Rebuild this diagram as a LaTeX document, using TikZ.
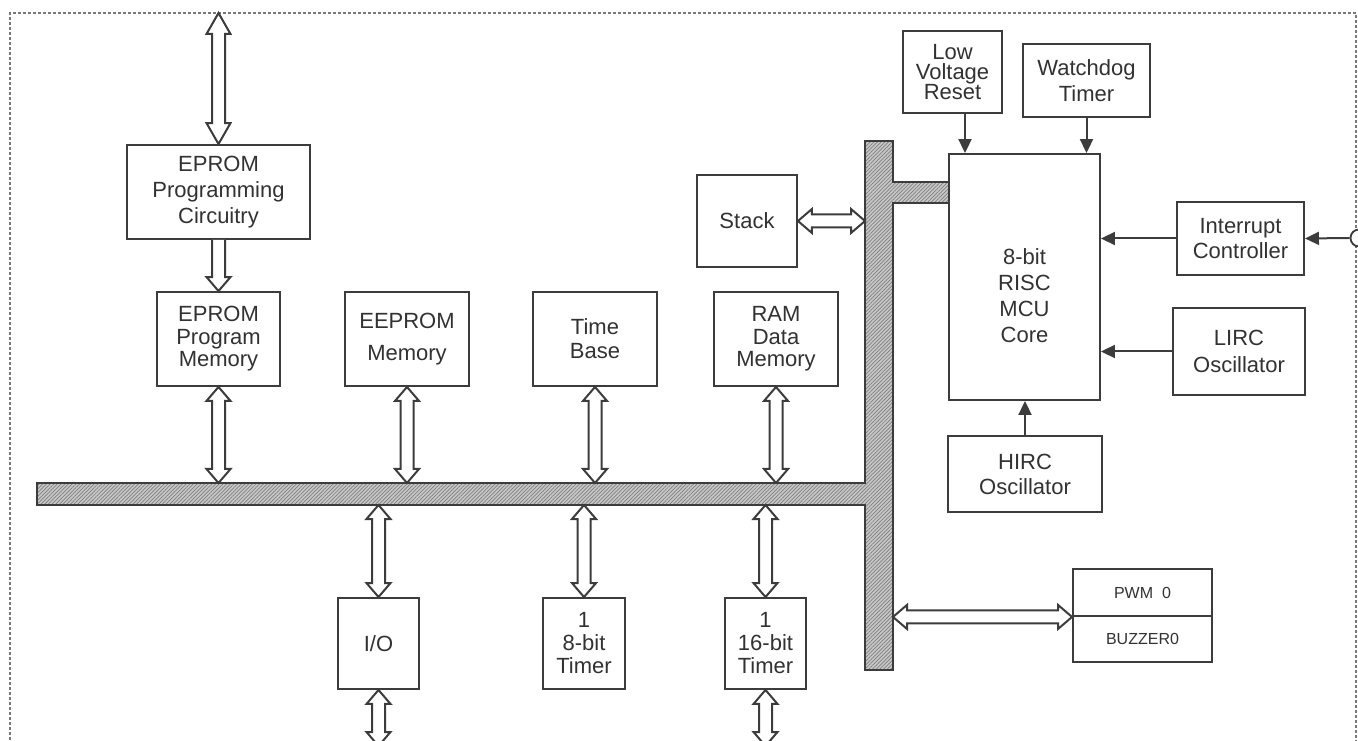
\documentclass[tikz,border=0pt]{standalone}
\usepackage{fontspec}
\setmainfont{Liberation Sans}
\usetikzlibrary{arrows.meta,calc,patterns.meta}

% hollow bus arrows between two points, #1 = head length
\newcommand{\dblarrow}[3][14]{%
  \draw[hollow] let \p1=(#2), \p2=(#3), \n1={atan2(\y2-\y1,\x2-\x1)},
    \n2={veclen(\x2-\x1,\y2-\y1)} in [shift={(\p1)}, rotate=\n1]
    (0,0) -- (#1,12) -- (#1,6.5) -- (\n2-#1,6.5) -- (\n2-#1,12) -- (\n2,0)
    -- (\n2-#1,-12) -- (\n2-#1,-6.5) -- (#1,-6.5) -- (#1,-12) -- cycle;}
\newcommand{\onearrow}[3][14]{%
  \draw[hollow] let \p1=(#2), \p2=(#3), \n1={atan2(\y2-\y1,\x2-\x1)},
    \n2={veclen(\x2-\x1,\y2-\y1)} in [shift={(\p1)}, rotate=\n1]
    (0,6.5) -- (\n2-#1,6.5) -- (\n2-#1,12) -- (\n2,0)
    -- (\n2-#1,-12) -- (\n2-#1,-6.5) -- (0,-6.5);}

\begin{document}
\begin{tikzpicture}[x=1pt,y=1pt,
  box/.style={draw=ldark,line width=1.9pt,fill=white,align=center,inner sep=0pt,
    text=ltext,font=\fontsize{22}{24}\selectfont},
  txt/.style={align=center,inner sep=0pt,text=ltext,font=\fontsize{22}{#1}\selectfont},
  lsep/.style={font=\fontsize{22}{#1}\selectfont},
  sig/.style={draw=ldark,line width=2pt,-{Triangle[length=14pt,width=13pt]}},
  hollow/.style={draw=ldark,line width=2pt,fill=white,line join=miter},
  border/.style={draw=lgray,line width=1.5pt,dash pattern=on 3pt off 2pt},
  ]
  \definecolor{ldark}{RGB}{60,60,60}
  \definecolor{ltext}{RGB}{50,50,50}
  \definecolor{lgray}{RGB}{120,120,120}
  \definecolor{lbus}{RGB}{200,200,200}
  \definecolor{lhatch}{RGB}{125,125,125}
  \useasboundingbox (0,0) rectangle (1358,740);
  \draw[border] (10,-20) rectangle (1356,727);
  % the bus
  \draw[draw=ldark,line width=1.4pt,preaction={fill=lbus},
    pattern={Lines[angle=45,distance=2.6pt,line width=0.7pt]},pattern color=lhatch]
    (37,257) -- (865,257) -- (865,599) -- (893,599) -- (893,558) -- (949,558)
    -- (949,537) -- (893,537) -- (893,70) -- (865,70) -- (865,235) -- (37,235) -- cycle;
  \coordinate (busT) at (0,257);
  \coordinate (busB) at (0,235);
  \coordinate (busL) at (865,0);
  \coordinate (busR) at (893,0);
  \coordinate (ptop) at (218.5,727);
  \coordinate (pbot) at (0,-6);
  % blocks
  \node[box,minimum width=183pt,minimum height=94pt,lsep=26] (prog) at (218.5,548) {EPROM\\Programming\\Circuitry};
  \node[box,minimum width=123pt,minimum height=94pt,lsep=22.5] (pmem) at (218.5,401) {EPROM\\Program\\Memory};
  \node[box,minimum width=124pt,minimum height=94pt,lsep=32] (eeprom) at (407,401) {EEPROM\\Memory};
  \node[box,minimum width=124pt,minimum height=94pt] (tbase) at (595,401) {Time\\Base};
  \node[box,minimum width=124pt,minimum height=94pt,lsep=22.5] (ram) at (776,401) {RAM\\Data\\Memory};
  \node[box,minimum width=100pt,minimum height=92pt] (stack) at (747,519) {Stack};
  \node[box,minimum width=151pt,minimum height=246pt] (core) at (1024.5,463) {};
  \node[txt=26] (corelbl) at ([yshift=-19pt]core.center) {8-bit\\RISC\\MCU\\Core};
  \node[box,minimum width=99pt,minimum height=82pt,lsep=20] (lvr) at (952.5,668) {Low\\Voltage\\Reset};
  \node[box,minimum width=127pt,minimum height=73pt,lsep=26] (wdt) at (1086.5,659.5) {Watchdog\\Timer};
  \node[box,minimum width=127pt,minimum height=73pt,lsep=25] (intc) at (1240.5,501.5) {Interrupt\\Controller};
  \node[box,minimum width=132pt,minimum height=87pt,lsep=27] (lirc) at (1239,388.5) {LIRC\\Oscillator};
  \node[box,minimum width=154pt,minimum height=76pt,lsep=25] (hirc) at (1025,266) {HIRC\\Oscillator};
  \node[box,minimum width=81pt,minimum height=91pt] (io) at (378.5,96.5) {I/O};
  \node[box,minimum width=82pt,minimum height=91pt,lsep=23] (tmr8) at (584,96.5) {1\\8-bit\\Timer};
  \node[box,minimum width=81pt,minimum height=91pt,lsep=23] (tmr16) at (765.5,96.5) {1\\16-bit\\Timer};
  \node[box,minimum width=139pt,minimum height=47pt,font=\fontsize{16}{18}\selectfont] (pwm) at (1142.5,147.5) {PWM\ \ 0};
  \node[box,minimum width=139pt,minimum height=46pt,font=\fontsize{16}{18}\selectfont] (buzz) at (1142.5,101) {BUZZER0};
  \node[circle,draw=ldark,line width=1.8pt,fill=white,minimum size=17pt,inner sep=0pt] (pin) at (1359,502) {};
  % bus arrows
  \dblarrow[21]{ptop}{prog.north}
  \onearrow{prog.south}{pmem.north}
  \dblarrow{pmem.south}{pmem.south |- busT}
  \dblarrow{eeprom.south}{eeprom.south |- busT}
  \dblarrow{tbase.south}{tbase.south |- busT}
  \dblarrow{ram.south}{ram.south |- busT}
  \dblarrow{io.north}{io.north |- busB}
  \dblarrow{tmr8.north}{tmr8.north |- busB}
  \dblarrow{tmr16.north}{tmr16.north |- busB}
  \dblarrow{io.south}{io.south |- pbot}
  \dblarrow{tmr16.south}{tmr16.south |- pbot}
  \dblarrow{stack.east}{stack.east -| busL}
  \dblarrow{pwm.south west -| busR}{pwm.south west}
  % signals into the core
  \draw[sig] ([xshift=12.5pt]lvr.south) -- ([xshift=12.5pt]lvr.south |- core.north);
  \draw[sig] (wdt.south) -- (wdt.south |- core.north);
  \draw[sig] (intc.west) -- (intc.west -| core.east);
  \draw[sig] (pin.west) -- (intc.east);
  \draw[sig] (lirc.west) -- (lirc.west -| core.east);
  \draw[sig] (hirc.north) -- (hirc.north |- core.south);
\end{tikzpicture}
\end{document}
